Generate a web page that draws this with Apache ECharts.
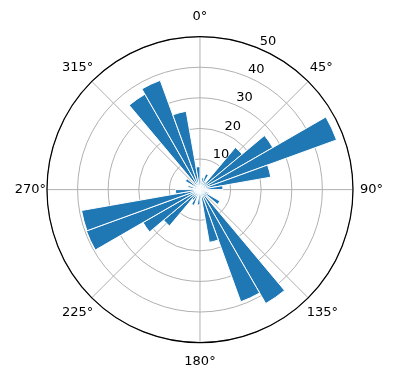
<!DOCTYPE html>
<html lang="en">

<head>
    <meta charset="UTF-8">
    <title>Polar bar</title>
    <script src="https://cdn.jsdelivr.net/npm/echarts@6/dist/echarts.min.js"></script>
    <style>
        * {
            margin: 0px;
            padding: 0px;
        }

        #chart {
            width: 396px;
            height: 380px;
            background: #fff;
        }
    </style>
</head>

<body>
    <div id="chart"></div>

    <script type="text/javascript">
        // bin start angles (degrees, clockwise from north)
        var bins = ['0', '10', '20', '30', '40', '50', '60', '70', '80', '90', '100', '110',
            '120', '130', '140', '150', '160', '170', '180', '190', '200', '210', '220', '230',
            '240', '250', '260', '270', '280', '290', '300', '310', '320', '330', '340', '350'];

        // bar lengths
        var radii = [3, 4, 5.5, 3, 18, 27.5, 47.5, 23.5, 7.5, 2, 1.5, 3,
            7.5, 3, 43, 39, 17.5, 3, 5, 2, 5.5, 4, 15.5, 21.5,
            39.5, 39.3, 8, 2, 4, 1.5, 5.5, 2, 36, 38, 26, 7.5];

        var rTicks = ['10', '20', '30', '40', '50'];

        var center = ['50.5%', '49.9%'];
        var size = 153;

        // nudge each degree label so it sits centred like the original
        var pads = {
            0: [0, 0, 15, 0],
            45: [0, 0, 9, 3],
            90: [0, 0, 0, 9],
            135: [10, 0, 0, 0],
            180: [15, 0, 0, 0],
            225: [10, 0, 0, 0],
            270: [0, 3, 0, 0],
            315: [0, 0, 9, 0]
        };
        var rich = {};
        Object.keys(pads).forEach(function (k) {
            rich['a' + k] = {
                fontSize: 13,
                color: '#000',
                fontFamily: 'DejaVu Sans',
                padding: pads[k]
            };
        });

        var myChart = echarts.init(document.getElementById('chart'));

        var option = {
            animation: false,
            textStyle: {
                fontFamily: 'DejaVu Sans'
            },
            polar: [
                { center: center, radius: size },
                { center: center, radius: size },
                // radius labels sit a bit further out than the rings
                { center: center, radius: [10, size + 10] }
            ],
            angleAxis: [{
                // bars
                polarIndex: 0,
                type: 'category',
                data: bins,
                startAngle: 90,
                clockwise: true,
                boundaryGap: true,
                axisLine: { show: false },
                axisTick: { show: false },
                axisLabel: { show: false },
                splitLine: { show: false }
            }, {
                // degree labels and spokes
                polarIndex: 1,
                type: 'value',
                min: 0,
                max: 360,
                interval: 45,
                startAngle: 90,
                clockwise: true,
                axisLine: { show: true, lineStyle: { color: '#000', width: 1.2 } },
                axisTick: { show: false },
                axisLabel: {
                    show: true,
                    color: '#000',
                    fontSize: 13,
                    margin: -2,
                    rich: rich,
                    formatter: function (v) {
                        if (!pads[v]) return '';
                        return '{a' + v + '|' + v + '°}';
                    }
                },
                splitLine: { show: true, lineStyle: { color: '#b0b0b0', width: 1 } },
                z: 1
            }, {
                // radius labels at 22.5 deg
                polarIndex: 2,
                type: 'value',
                min: 0,
                max: 360,
                startAngle: 67.5,
                clockwise: true,
                show: false
            }],
            radiusAxis: [{
                polarIndex: 0,
                type: 'value',
                min: 0,
                max: 50,
                axisLine: { show: false },
                axisTick: { show: false },
                axisLabel: { show: false },
                splitLine: { show: false }
            }, {
                polarIndex: 1,
                type: 'value',
                min: 0,
                max: 50,
                interval: 10,
                axisLine: { show: false },
                axisTick: { show: false },
                axisLabel: { show: false },
                splitLine: { show: true, lineStyle: { color: '#b0b0b0', width: 1 } },
                z: 1
            }, {
                polarIndex: 2,
                type: 'value',
                min: 0,
                max: 50,
                interval: 10,
                axisLine: { show: false },
                axisTick: { show: false },
                splitLine: { show: false },
                axisLabel: {
                    show: true,
                    color: '#000',
                    fontSize: 13,
                    margin: -6,
                    align: 'center',
                    verticalAlign: 'middle',
                    formatter: function (v) {
                        return rTicks.indexOf(String(v)) >= 0 ? String(v) : '';
                    }
                },
                z: 5
            }],
            series: [{
                type: 'bar',
                coordinateSystem: 'polar',
                polarIndex: 0,
                data: radii,
                barCategoryGap: '0%',
                itemStyle: {
                    color: '#1f77b4',
                    borderColor: '#fff',
                    borderWidth: 1
                },
                z: 3
            }]
        };

        myChart.setOption(option);
    </script>
</body>

</html>
